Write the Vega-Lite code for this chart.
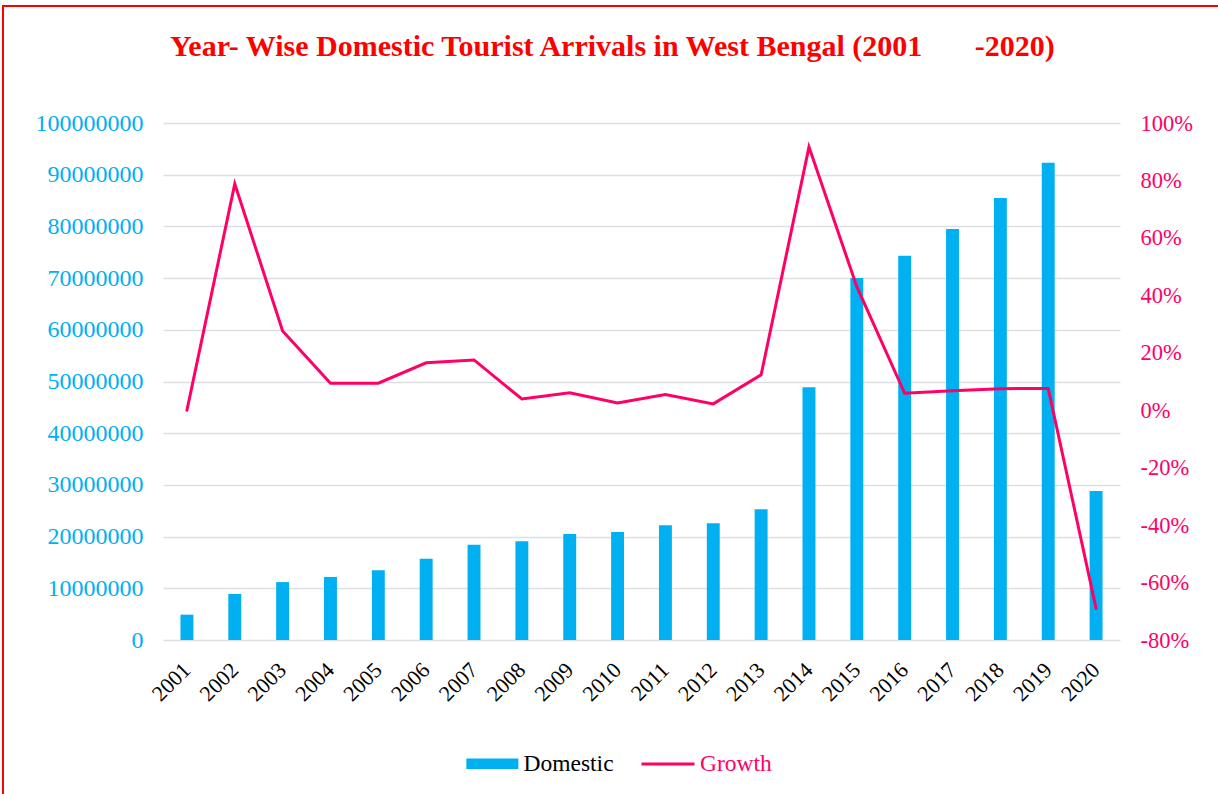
{
  "$schema": "https://vega.github.io/schema/vega-lite/v6.json",
  "autosize": {"type": "none"},
  "padding": {"left": 3, "top": 6, "right": -4, "bottom": -4},
  "width": 1219,
  "height": 792,
  "background": "white",
  "config": {
    "view": {"stroke": "#FF0000", "strokeWidth": 2},
    "font": "Liberation Serif"
  },
  "title": {
    "text": "Year- Wise Domestic Tourist Arrivals in West Bengal (2001\u00a0\u00a0\u00a0\u00a0\u00a0\u00a0\u00a0-2020)",
    "font": "Liberation Serif",
    "fontSize": 30,
    "fontWeight": "bold",
    "color": "#FF0000",
    "anchor": "start",
    "dx": 167,
    "offset": -56
  },
  "data": {
    "values": [
      {"year": "2001", "domestic": 4900000, "growth": 0},
      {"year": "2002", "domestic": 8900000, "growth": 78.8},
      {"year": "2003", "domestic": 11200000, "growth": 27.6},
      {"year": "2004", "domestic": 12200000, "growth": 9.4},
      {"year": "2005", "domestic": 13500000, "growth": 9.4},
      {"year": "2006", "domestic": 15700000, "growth": 16.5},
      {"year": "2007", "domestic": 18400000, "growth": 17.5},
      {"year": "2008", "domestic": 19100000, "growth": 3.9},
      {"year": "2009", "domestic": 20500000, "growth": 6.1},
      {"year": "2010", "domestic": 20900000, "growth": 2.5},
      {"year": "2011", "domestic": 22200000, "growth": 5.5},
      {"year": "2012", "domestic": 22600000, "growth": 2.2},
      {"year": "2013", "domestic": 25300000, "growth": 12.3},
      {"year": "2014", "domestic": 48900000, "growth": 91.7},
      {"year": "2015", "domestic": 70000000, "growth": 43.0},
      {"year": "2016", "domestic": 74300000, "growth": 5.9},
      {"year": "2017", "domestic": 79500000, "growth": 6.8},
      {"year": "2018", "domestic": 85500000, "growth": 7.5},
      {"year": "2019", "domestic": 92300000, "growth": 7.6},
      {"year": "2020", "domestic": 28800000, "growth": -69.0}
    ]
  },
  "encoding": {
    "x": {
      "field": "year",
      "type": "ordinal",
      "scale": {"range": [160, 1117], "paddingInner": 0.73, "paddingOuter": 0.365},
      "axis": {
        "title": null,
        "labelAngle": -45,
        "labelAlign": "right",
        "labelBaseline": "middle",
        "labelFont": "Liberation Serif",
        "labelFontSize": 22,
        "labelColor": "#000000",
        "domain": false,
        "ticks": false,
        "grid": false,
        "offset": -158,
        "labelPadding": 26
      }
    }
  },
  "layer": [
    {
      "mark": {"type": "bar", "color": "#00B0F0"},
      "encoding": {
        "y": {
          "field": "domestic",
          "type": "quantitative",
          "scale": {"domain": [0, 100000000], "range": [634, 117], "nice": false},
          "axis": {
            "orient": "left",
            "title": null,
            "offset": -160,
            "values": [0, 10000000, 20000000, 30000000, 40000000, 50000000, 60000000, 70000000, 80000000, 90000000, 100000000],
            "format": "d",
            "labelFont": "Liberation Serif",
            "labelFontSize": 24,
            "labelColor": "#00B0F0",
            "labelPadding": 20,
            "domain": false,
            "ticks": false,
            "grid": true,
            "gridColor": "#DCE0E5",
            "gridWidth": 1.5
          }
        },
        "fill": {
          "datum": "Domestic",
          "scale": {"range": ["#00B0F0"]},
          "legend": {
            "title": null,
            "orient": "none",
            "legendX": 462,
            "legendY": 746,
            "padding": 0,
            "symbolType": "M-1,-0.5H4V0.5H-1Z",
            "symbolSize": 433,
            "symbolStrokeWidth": 0,
            "labelOffset": 35,
            "labelFont": "Liberation Serif",
            "labelFontSize": 23.5,
            "labelColor": "#000000"
          }
        }
      }
    },
    {
      "mark": {"type": "line", "strokeWidth": 3, "strokeCap": "round", "strokeJoin": "miter"},
      "encoding": {
        "y": {
          "field": "growth",
          "type": "quantitative",
          "scale": {"domain": [-80, 100], "range": [634, 117], "nice": false},
          "axis": {
            "orient": "right",
            "title": null,
            "offset": -102,
            "values": [-80, -60, -40, -20, 0, 20, 40, 60, 80, 100],
            "labelExpr": "datum.value + '%'",
            "labelFont": "Liberation Serif",
            "labelFontSize": 22.5,
            "labelColor": "#FF0066",
            "labelPadding": 20,
            "domain": false,
            "ticks": false,
            "grid": false
          }
        },
        "stroke": {
          "datum": "Growth",
          "scale": {"range": ["#FF0066"]},
          "legend": {
            "title": null,
            "orient": "none",
            "legendX": 637,
            "legendY": 730,
            "padding": 0,
            "symbolType": "stroke",
            "symbolSize": 2809,
            "symbolStrokeWidth": 3,
            "labelOffset": 4,
            "labelFont": "Liberation Serif",
            "labelFontSize": 23.5,
            "labelColor": "#FF0066"
          }
        }
      }
    }
  ],
  "resolve": {"scale": {"y": "independent"}}
}
